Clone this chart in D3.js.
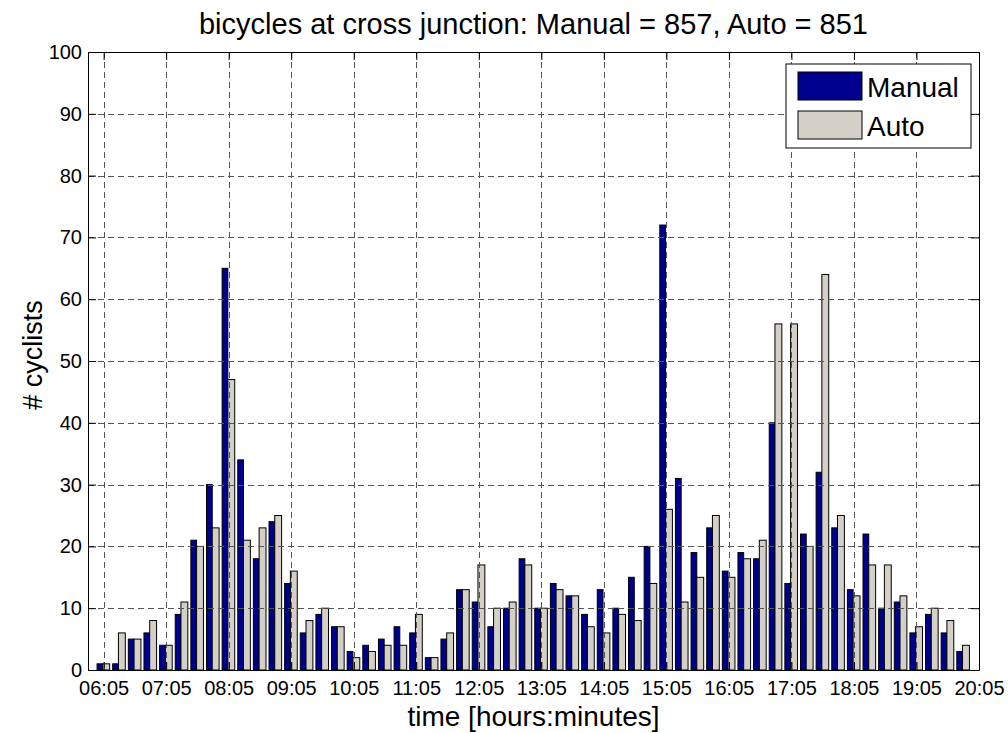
<!DOCTYPE html>
<html>
<head>
<meta charset="utf-8">
<script src="https://cdn.jsdelivr.net/npm/d3@7"></script>
<style>
  html, body { margin: 0; padding: 0; background: #ffffff; }
  svg { display: block; font-family: "Liberation Sans", Arial, Helvetica, sans-serif; }
</style>
</head>
<body>
<svg id="chart" width="1008" height="733"></svg>
<script>
// 15-minute counting intervals (interval start times)
const times = [
  "06:05","06:20","06:35","06:50","07:05","07:20","07:35","07:50",
  "08:05","08:20","08:35","08:50","09:05","09:20","09:35","09:50",
  "10:05","10:20","10:35","10:50","11:05","11:20","11:35","11:50",
  "12:05","12:20","12:35","12:50","13:05","13:20","13:35","13:50",
  "14:05","14:20","14:35","14:50","15:05","15:20","15:35","15:50",
  "16:05","16:20","16:35","16:50","17:05","17:20","17:35","17:50",
  "18:05","18:20","18:35","18:50","19:05","19:20","19:35","19:50"
];

// cyclists counted by hand per interval
const manual = [
  1, 1, 5, 6, 4, 9, 21, 30,
  65, 34, 18, 24, 14, 6, 9, 7,
  3, 4, 5, 7, 6, 2, 5, 13,
  11, 7, 10, 18, 10, 14, 12, 9,
  13, 10, 15, 20, 72, 31, 19, 23,
  16, 19, 18, 40, 14, 22, 32, 23,
  13, 22, 10, 11, 6, 9, 6, 3
];

// cyclists counted by the automatic detector per interval
const auto = [
  1, 6, 5, 8, 4, 11, 20, 23,
  47, 21, 23, 25, 16, 8, 10, 7,
  2, 3, 4, 4, 9, 2, 6, 13,
  17, 10, 11, 17, 10, 13, 12, 7,
  6, 9, 8, 14, 26, 11, 15, 25,
  15, 18, 21, 56, 56, 20, 64, 25,
  12, 17, 17, 12, 7, 10, 8, 4
];

const seriesNames = ["Manual", "Auto"];
const xTickLabels = ["06:05","07:05","08:05","09:05","10:05","11:05","12:05",
                     "13:05","14:05","15:05","16:05","17:05","18:05","19:05","20:05"];
const yTicks = [0, 10, 20, 30, 40, 50, 60, 70, 80, 90, 100];
const xDomain = ["05:50", "20:05"];

const colors = { Manual: "#00008f", Auto: "#d4d0c8" };

const toMin = s => { const [h, m] = s.split(":").map(Number); return h * 60 + m; };

const svg = d3.select("#chart");
const plot = { left: 88, right: 979, top: 52, bottom: 670 };

const x = d3.scaleLinear()
  .domain(xDomain.map(toMin))
  .range([plot.left, plot.right]);
const y = d3.scaleLinear()
  .domain([0, 100])
  .range([plot.bottom, plot.top]);

// plot background
svg.append("rect")
  .attr("x", plot.left).attr("y", plot.top)
  .attr("width", plot.right - plot.left).attr("height", plot.bottom - plot.top)
  .attr("fill", "#ffffff");

// grouped bars: manual left of the interval mark, auto right of it
const data = times.map((t, i) => ({ t: toMin(t), Manual: manual[i], Auto: auto[i] }));
const offsets = { Manual: [-6.3, -0.8], Auto: [-0.8, 5.8] };

seriesNames.forEach(name => {
  svg.append("g")
    .selectAll("rect")
    .data(data)
    .join("rect")
    .attr("x", d => x(d.t + offsets[name][0]))
    .attr("width", d => x(d.t + offsets[name][1]) - x(d.t + offsets[name][0]))
    .attr("y", d => y(d[name]))
    .attr("height", d => y(0) - y(d[name]))
    .attr("fill", colors[name])
    .attr("stroke", "#000")
    .attr("stroke-width", 1);
});

// dashed grid drawn over the bars
const grid = svg.append("g")
  .attr("stroke", "#555")
  .attr("stroke-width", 1)
  .attr("stroke-dasharray", "6,4");
grid.selectAll("line.gx")
  .data(xTickLabels.map(toMin))
  .join("line")
  .attr("x1", d => Math.round(x(d)) + 0.5).attr("x2", d => Math.round(x(d)) + 0.5)
  .attr("y1", plot.top).attr("y2", plot.bottom);
grid.selectAll("line.gy")
  .data(yTicks.slice(1, -1))
  .join("line")
  .attr("y1", d => Math.round(y(d)) + 0.5).attr("y2", d => Math.round(y(d)) + 0.5)
  .attr("x1", plot.left).attr("x2", plot.right);

// axes with inward ticks on all four sides
const tickLen = 8;
const xAxisBottom = d3.axisBottom(x)
  .tickValues(xTickLabels.map(toMin))
  .tickFormat((d, i) => xTickLabels[i])
  .tickSizeInner(-tickLen).tickSizeOuter(0).tickPadding(tickLen + 3);
const xAxisTop = d3.axisTop(x)
  .tickValues(xTickLabels.map(toMin))
  .tickFormat("")
  .tickSizeInner(-tickLen).tickSizeOuter(0);
const yAxisLeft = d3.axisLeft(y)
  .tickValues(yTicks)
  .tickSizeInner(-tickLen).tickSizeOuter(0).tickPadding(tickLen - 2);
const yAxisRight = d3.axisRight(y)
  .tickValues(yTicks)
  .tickFormat("")
  .tickSizeInner(-tickLen).tickSizeOuter(0);

function styleAxis(g) {
  g.select(".domain").attr("stroke", "#000").attr("stroke-width", 1);
  g.selectAll(".tick line").attr("stroke", "#000");
  g.selectAll(".tick text").attr("fill", "#000").style("font-size", "20px");
}

svg.append("g").attr("transform", `translate(0,${plot.bottom})`).call(xAxisBottom).call(styleAxis);
svg.append("g").attr("transform", `translate(0,${plot.top})`).call(xAxisTop).call(styleAxis);
svg.append("g").attr("transform", `translate(${plot.left},0)`).call(yAxisLeft).call(styleAxis);
svg.append("g").attr("transform", `translate(${plot.right},0)`).call(yAxisRight).call(styleAxis);

// titles
const total = a => d3.sum(a);
svg.append("text")
  .attr("x", (plot.left + plot.right) / 2).attr("y", 34)
  .attr("text-anchor", "middle")
  .style("font-size", "29px")
  .text(`bicycles at cross junction: Manual = ${total(manual)}, Auto = ${total(auto)}`);

svg.append("text")
  .attr("x", (plot.left + plot.right) / 2).attr("y", 726)
  .attr("text-anchor", "middle")
  .style("font-size", "28px")
  .text("time [hours:minutes]");

svg.append("text")
  .attr("transform", `translate(42,${(plot.top + plot.bottom) / 2 - 6}) rotate(-90)`)
  .attr("text-anchor", "middle")
  .style("font-size", "27px")
  .text("# cyclists");

// legend
const legend = svg.append("g");
legend.append("rect")
  .attr("x", 786).attr("y", 64).attr("width", 185).attr("height", 84)
  .attr("fill", "#fff").attr("stroke", "#000");
seriesNames.forEach((name, i) => {
  legend.append("rect")
    .attr("x", 798).attr("y", 72 + i * 39).attr("width", 64).attr("height", 28)
    .attr("fill", colors[name]).attr("stroke", "#000");
  legend.append("text")
    .attr("x", 867).attr("y", 97 + i * 39)
    .style("font-size", "28px")
    .text(name);
});
</script>
</body>
</html>
